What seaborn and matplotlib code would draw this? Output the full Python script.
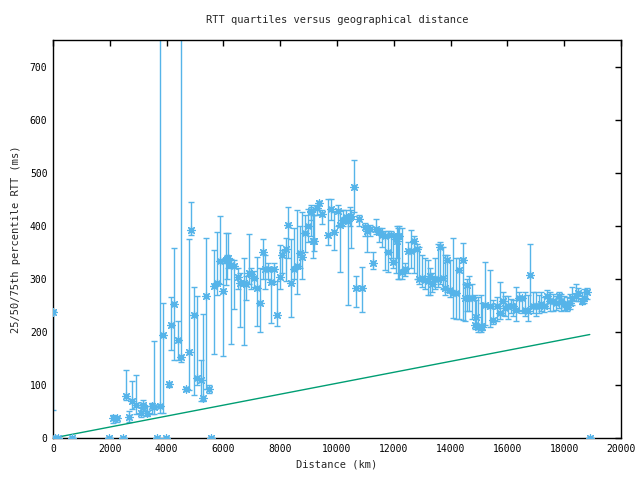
import matplotlib
matplotlib.use("Agg")
import matplotlib.pyplot as plt
import seaborn as sns
import pandas as pd
import numpy as np

# ---- data ----
distance_km = [
    0, 60, 160, 680, 1970, 2470, 3670, 3980, 5570, 18900,
    2100, 2260, 2570, 2690, 2790, 2910, 3090, 3160, 3180, 3300,
    3470, 3570, 3770, 3880, 4090, 4150, 4270, 4390, 4490, 4700,
    4800, 4860, 4960, 5080, 5200, 5290, 5390, 5480, 5670, 5790,
    5880, 6000, 6090, 6110, 6170, 6270, 6380, 6500, 6580, 6720,
    6780, 6900, 6970, 7090, 7180, 7290, 7400, 7460, 7580, 7670,
    7790, 7890, 7990, 8070, 8190, 8280, 8380, 8500, 8600, 8690,
    8760, 8870, 8990, 9080, 9100, 9160, 9200, 9300, 9360, 9480,
    9690, 9790, 9890, 10040, 10100, 10220, 10310, 10390, 10450, 10510,
    10610, 10670, 10780, 10890, 10980, 11060, 11160, 11270, 11370, 11480,
    11570, 11690, 11800, 11900, 11980, 12070, 12100, 12160, 12190, 12290,
    12390, 12510, 12590, 12710, 12800, 12880, 13000, 13090, 13210, 13270,
    13360, 13450, 13560, 13620, 13720, 13800, 13880, 13970, 14090, 14190,
    14300, 14420, 14500, 14560, 14640, 14760, 14850, 14890, 14970, 15070,
    15120, 15200, 15380, 15500, 15620, 15730, 15830, 15910, 16030, 16120,
    16200, 16320, 16410, 16500, 16610, 16710, 16810, 16910, 17000, 17110,
    17200, 17290, 17400, 17490, 17610, 17710, 17810, 17900, 18000, 18100,
    18200, 18290, 18400, 18490, 18610, 18690, 18810,
]
rtt_median = [
    237, 0, 0, 0, 0, 0, 0, 0, 0, 0,
    37, 37, 79, 40, 70, 62, 47, 62, 59, 47,
    60, 59, 61, 194, 101, 212, 252, 185, 152, 92,
    162, 392, 231, 114, 109, 75, 268, 92, 286, 292,
    334, 277, 336, 337, 339, 326, 325, 303, 292, 293,
    291, 311, 309, 301, 282, 255, 350, 318, 318, 294,
    319, 232, 303, 345, 356, 402, 293, 319, 325, 348,
    342, 386, 399, 426, 427, 372, 372, 434, 443, 423,
    383, 431, 389, 427, 402, 411, 416, 408, 416, 418,
    473, 282, 413, 282, 398, 391, 394, 330, 394, 389,
    383, 380, 350, 383, 331, 375, 372, 380, 381, 312,
    318, 353, 352, 372, 356, 299, 301, 298, 295, 306,
    291, 299, 299, 360, 301, 282, 336, 278, 274, 273,
    316, 336, 264, 289, 264, 264, 213, 228, 210, 211,
    210, 250, 249, 223, 249, 236, 258, 245, 248, 249,
    249, 242, 264, 264, 242, 240, 308, 248, 249, 249,
    252, 249, 267, 258, 258, 254, 267, 258, 253, 246,
    254, 264, 268, 274, 259, 264, 276,
]
rtt_p25 = [
    53, 0, 0, 0, 0, 0, 0, 0, 0, 0,
    28, 30, 72, 31, 55, 45, 40, 50, 50, 42,
    45, 45, 47, 47, 96, 166, 147, 147, 144, 88,
    90, 383, 81, 100, 69, 70, 92, 85, 158, 270,
    290, 155, 289, 300, 320, 177, 243, 280, 209, 175,
    260, 290, 280, 285, 211, 199, 300, 280, 300, 216,
    290, 211, 280, 310, 295, 340, 228, 300, 271, 320,
    300, 350, 370, 380, 410, 340, 352, 420, 430, 404,
    364, 410, 355, 400, 313, 400, 405, 251, 400, 358,
    425, 247, 400, 237, 380, 350, 380, 318, 385, 370,
    360, 317, 312, 340, 320, 310, 340, 300, 300, 300,
    305, 310, 320, 310, 300, 290, 285, 280, 270, 270,
    275, 280, 285, 290, 280, 270, 275, 265, 227, 225,
    225, 222, 220, 240, 240, 225, 205, 210, 200, 200,
    204, 212, 210, 215, 220, 225, 232, 230, 225, 235,
    230, 220, 240, 235, 230, 220, 245, 235, 230, 235,
    240, 238, 245, 240, 240, 242, 245, 240, 242, 240,
    244, 250, 258, 258, 252, 255, 262,
]
rtt_p75 = [
    240, 0, 0, 0, 0, 0, 0, 0, 0, 0,
    43, 40, 128, 50, 108, 118, 62, 72, 65, 60,
    66, 182, 2000, 255, 106, 266, 358, 221, 2000, 96,
    375, 445, 285, 268, 147, 234, 376, 100, 355, 389,
    419, 330, 386, 345, 386, 338, 335, 320, 310, 340,
    305, 384, 320, 315, 342, 320, 375, 345, 330, 320,
    330, 296, 363, 355, 377, 436, 375, 395, 429, 400,
    425, 420, 432, 440, 435, 420, 420, 440, 446, 430,
    450, 450, 425, 440, 430, 430, 430, 420, 435, 430,
    523, 306, 420, 322, 405, 400, 402, 350, 412, 395,
    395, 390, 390, 390, 385, 385, 400, 395, 400, 395,
    330, 370, 392, 380, 365, 360, 345, 340, 335, 320,
    310, 340, 365, 370, 360, 345, 345, 335, 377, 340,
    340, 367, 290, 300, 305, 290, 270, 260, 265, 270,
    255, 332, 317, 260, 265, 294, 275, 268, 268, 262,
    260, 285, 275, 268, 275, 270, 365, 275, 275, 270,
    275, 265, 278, 275, 272, 268, 275, 272, 268, 265,
    272, 285, 290, 282, 275, 280, 282,
]

# theoretical minimum RTT line (endpoints)
min_distance_km = [0, 18900]
min_rtt = [0, 195]

BLUE = "#56b4e9"
GREEN = "#009e73"

df = pd.DataFrame({"distance": distance_km, "median": rtt_median,
                   "p25": rtt_p25, "p75": rtt_p75})
line_df = pd.DataFrame({"distance": min_distance_km, "rtt": min_rtt})

sns.set_style("white")
plt.rcParams["font.family"] = ["DejaVu Sans Mono", "DejaVu Sans"]
plt.rcParams["font.size"] = 7

fig = plt.figure(figsize=(6.4, 4.8), dpi=100)
ax = fig.add_axes([53 / 640, 42 / 480, 568 / 640, 398 / 480])

yerr = np.vstack([df["median"] - df["p25"], df["p75"] - df["median"]])
ax.errorbar(df["distance"], df["median"], yerr=yerr, fmt="none",
            ecolor=BLUE, elinewidth=1.0, capsize=2.5, capthick=1.0, zorder=2)
sns.scatterplot(data=df, x="distance", y="median", marker=(8, 2, 0),
                s=30, color=BLUE, linewidth=0.9, ax=ax, zorder=3, legend=False)
sns.lineplot(data=line_df, x="distance", y="rtt", color=GREEN,
             linewidth=1.0, ax=ax, zorder=2)

ax.set_xlim(0, 20000)
ax.set_ylim(0, 750)
ax.set_xticks(range(0, 20001, 2000))
ax.set_yticks(range(0, 701, 100))
ax.tick_params(direction="in", length=4, width=1, top=True, right=True,
               labelsize=7, pad=4, colors="black")
for sp in ax.spines.values():
    sp.set_visible(True)
    sp.set_color("black")
    sp.set_linewidth(1.0)

ax.set_title("RTT quartiles versus geographical distance", fontsize=7.5, pad=12)
ax.set_xlabel("Distance (km)", fontsize=7.5, labelpad=4)
ax.set_ylabel("25/50/75th percentile RTT (ms)", fontsize=7.5, labelpad=6)

fig.savefig("out.png", dpi=100)
